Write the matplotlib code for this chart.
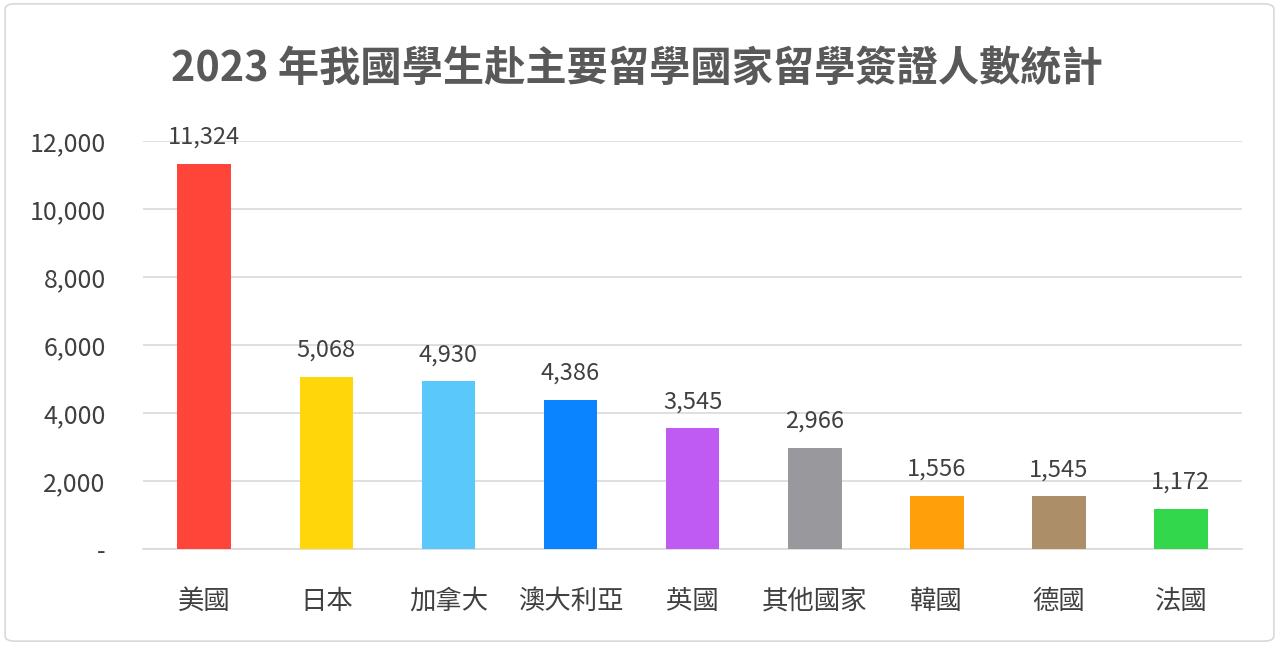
import matplotlib.pyplot as plt
from matplotlib.patches import FancyBboxPatch

plt.rcParams['font.family'] = ['Noto Sans CJK TC', 'DejaVu Sans']

# 資料
countries = ['美國', '日本', '加拿大', '澳大利亞', '英國', '其他國家', '韓國', '德國', '法國']
visas = [11324, 5068, 4930, 4386, 3545, 2966, 1556, 1545, 1172]
bar_colors = ['#FF453A', '#FFD60A', '#5AC8FA', '#0A84FF', '#BF5AF2',
              '#98989D', '#FF9F0A', '#AC8E68', '#32D74B']
yticks = [0, 2000, 4000, 6000, 8000, 10000, 12000]
ytick_labels = ['-', '2,000', '4,000', '6,000', '8,000', '10,000', '12,000']

text_color = '#404040'

fig = plt.figure(figsize=(12.79, 6.45), dpi=100)
ax = fig.add_axes([0.112, 0.149, 0.859, 0.632])

# 外框
border = FancyBboxPatch((0.004, 0.006), 0.992, 0.988,
                        boxstyle='round,pad=0,rounding_size=0.008',
                        transform=fig.transFigure, facecolor='none',
                        edgecolor='#d9d9d9', linewidth=1.2)
fig.patches.append(border)

x = range(len(countries))
bars = ax.bar(x, visas, width=0.44, color=bar_colors, zorder=3)

# 數值標籤
for rect, v in zip(bars, visas):
    ax.annotate(f'{v:,}', (rect.get_x() + rect.get_width() / 2, v),
                xytext=(0, 11), textcoords='offset points',
                ha='center', va='bottom', fontsize=17, color=text_color)

ax.set_xlim(-0.5, len(countries) - 0.5)
ax.set_ylim(0, 12000)
ax.set_yticks(yticks)
ax.set_yticklabels(ytick_labels)
ax.set_xticks(list(x))
ax.set_xticklabels(countries)
ax.tick_params(axis='both', length=0, labelcolor=text_color)
ax.tick_params(axis='x', pad=28, labelsize=19)
ax.tick_params(axis='y', pad=27, labelsize=18)

ax.grid(axis='y', color='#d9d9d9', linewidth=1.2, zorder=0)
for s in ['top', 'right', 'left']:
    ax.spines[s].set_visible(False)
ax.spines['bottom'].set_color('#d9d9d9')
ax.spines['bottom'].set_linewidth(1.2)

fig.text(0.498, 0.893, '2023 年我國學生赴主要留學國家留學簽證人數統計',
         ha='center', va='center', fontsize=29.7, fontweight='bold', color='#595959')

fig.savefig('out.png', dpi=100)
